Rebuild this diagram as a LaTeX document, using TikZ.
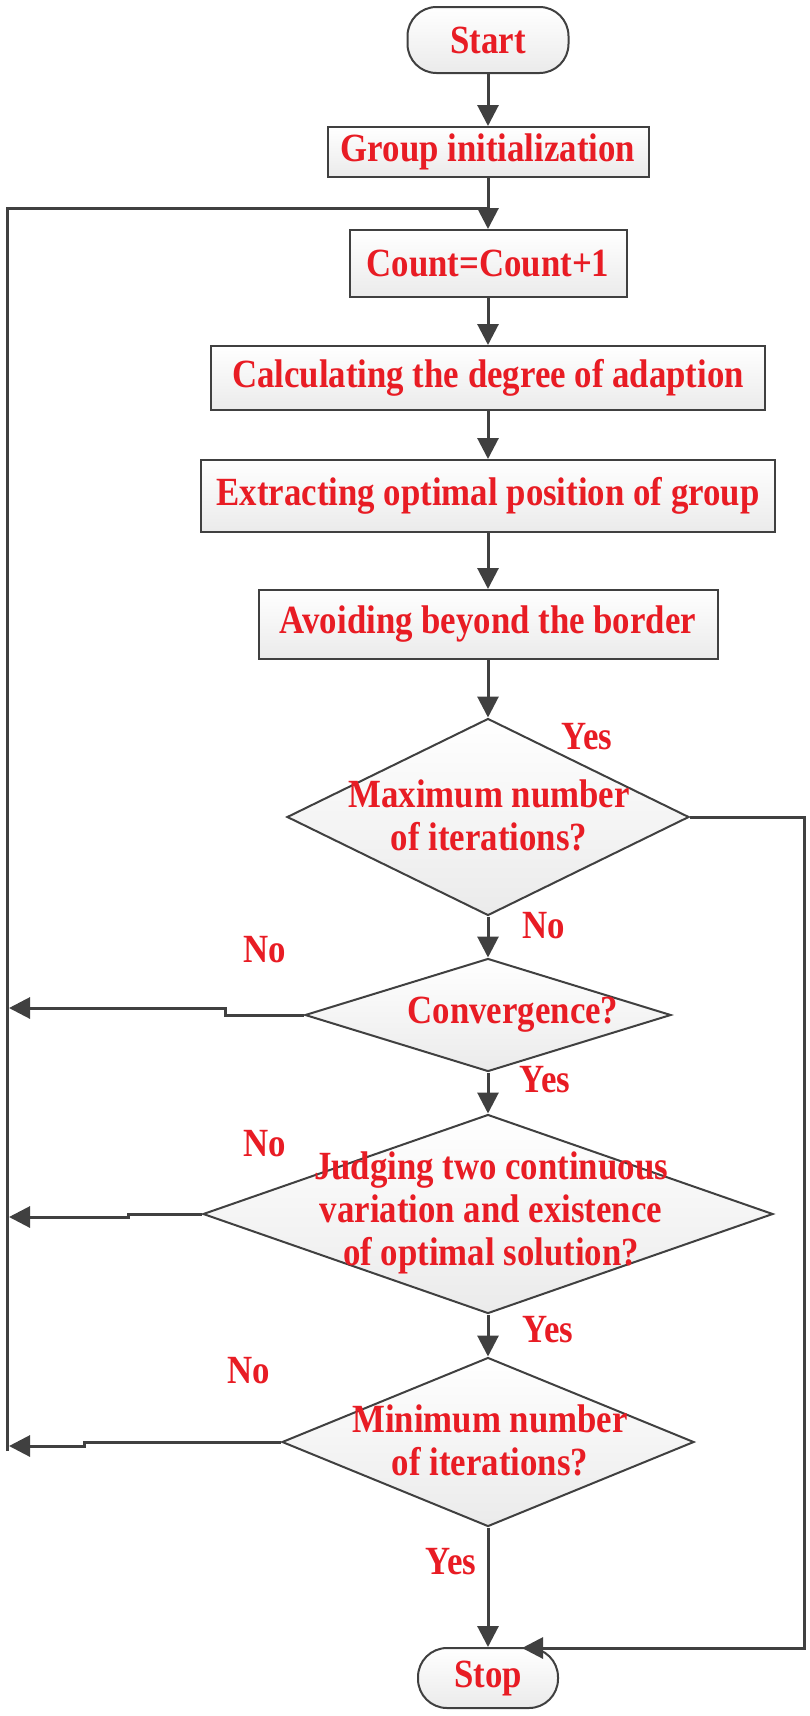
\documentclass[tikz,border=0pt]{standalone}
\usepackage{fontspec}
\usepackage{tikz}
\usetikzlibrary{positioning, shapes.geometric, arrows.meta}
\newfontfamily\flowfont[FakeStretch=0.87]{Liberation Serif}
\definecolor{flowred}{RGB}{232,28,36}
\definecolor{flowline}{RGB}{64,64,64}

\begin{document}
\begin{tikzpicture}[x=1pt, y=-1pt,
    txt/.style={text=flowred, font=\flowfont\bfseries\fontsize{40}{43}\selectfont, align=center, inner sep=0pt},
    box/.style={rectangle, draw=flowline, line width=2pt, top color=white, bottom color=black!8, txt},
    term/.style={box, rounded corners=29pt},
    decision/.style={diamond, draw=flowline, line width=2pt, top color=white, bottom color=black!8, inner sep=0pt},
    flow/.style={draw=flowline, line width=3pt, -{Triangle[length=21pt, width=21pt]}},
    link/.style={draw=flowline, line width=3pt}]
    \useasboundingbox (0,0) rectangle (810,1716);

    \node[term, minimum width=161pt, minimum height=66pt] (start) at (488,40) {Start};
    \node[box, minimum width=321pt, minimum height=50pt] (init) at (488,152) {Group initialization};
    \node[box, minimum width=277pt, minimum height=67pt] (count) at (488,263.5) {Count=Count+1};
    \node[box, minimum width=554pt, minimum height=64pt] (calc) at (488,378) {Calculating the degree of adaption};
    \node[box, minimum width=574pt, minimum height=72pt] (extract) at (488,496) {Extracting optimal position of group};
    \node[box, minimum width=459pt, minimum height=69pt] (avoid) at (488,624.5) {Avoiding beyond the border};

    \node[decision, minimum width=402pt, minimum height=197pt] (d1) at (488,817) {};
    \node[txt] (d1text) at (489,815) {Maximum number\\of iterations?};
    \node[decision, minimum width=366pt, minimum height=113pt] (d2) at (488,1015) {};
    \node[txt] (d2text) at (513,1015) {Convergence?};
    \node[decision, minimum width=570pt, minimum height=199pt] (d3) at (488,1214) {};
    \node[txt] (d3text) at (491,1213) {Judging two continuous\\variation and existence\\of optimal solution?};
    \node[decision, minimum width=412pt, minimum height=169pt] (d4) at (488,1442) {};
    \node[txt] (d4text) at (490,1440) {Minimum number\\of iterations?};

    \node[term, minimum width=140pt, minimum height=60pt] (stop) at (488,1678) {Stop};

    \node[txt] (yes1) at (587,737) {Yes};
    \node[txt] (no1) at (544,926) {No};
    \node[txt] (no2) at (265,950) {No};
    \node[txt] (yes2) at (545,1080) {Yes};
    \node[txt] (no3) at (265,1144) {No};
    \node[txt] (yes3) at (548,1330) {Yes};
    \node[txt] (no4) at (249,1371) {No};
    \node[txt] (yes4) at (451,1562) {Yes};

    \coordinate (loopjoin) at (488,208);
    \coordinate (in2) at (9,1008);
    \coordinate (in3) at (9,1217);
    \coordinate (in4) at (9,1446);
    \coordinate (rt) at (804,1648);
    \coordinate (stopin) at (522,1648);

    \draw[flow] (start) -- (init);
    \draw[flow] (init) -- (count);
    \draw[flow] (count) -- (calc);
    \draw[flow] (calc) -- (extract);
    \draw[flow] (extract) -- (avoid);
    \draw[flow] (avoid) -- (d1);
    \draw[flow] (d1) -- (d2);
    \draw[flow] (d2) -- (d3);
    \draw[flow] (d3) -- (d4);
    \draw[flow] (d4) -- (stop);

    \draw[flow] (d1.east) -| (rt) -- (stopin);
    \draw[flow] (d2.west) -- ++(-79,0) |- (in2);
    \draw[flow] (d3.west) -- ++(-74,0) |- (in3);
    \draw[flow] (d4.west) -- ++(-197,0) |- (in4);
    \draw[link] (7.5,1451) |- (loopjoin);
\end{tikzpicture}
\end{document}
